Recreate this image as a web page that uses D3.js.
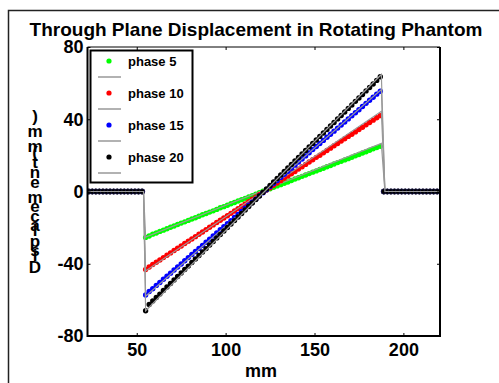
<!DOCTYPE html>
<html>
<head>
<meta charset="utf-8">
<script src="https://cdn.jsdelivr.net/npm/d3@7"></script>
<style>
  html, body { margin: 0; padding: 0; background: #fff; }
  svg text { font-family: "Liberation Sans", Arial, sans-serif; font-weight: bold; fill: #000; }
</style>
</head>
<body>
<svg id="chart" width="499" height="383"></svg>
<script>
// positions (mm) of the measured points
const flatLeftX = [23, 25, 27, 29, 31, 33, 35, 37, 39, 41, 43, 45, 47, 49, 51, 53];
const flatRightX = [189, 191, 193, 195, 197, 199, 201, 203, 205, 207, 209, 211, 213, 215, 217, 219];
const rampX = [55, 57, 59, 61, 63, 65, 67, 69, 71, 73, 75, 77, 79, 81, 83, 85, 87, 89, 91, 93,
  95, 97, 99, 101, 103, 105, 107, 109, 111, 113, 115, 117, 119, 121, 123, 125, 127, 129, 131, 133,
  135, 137, 139, 141, 143, 145, 147, 149, 151, 153, 155, 157, 159, 161, 163, 165, 167, 169, 171, 173,
  175, 177, 179, 181, 183, 185, 187];

const phase5 = [-25.4, -24.6, -23.6, -23.0, -22.1, -21.4, -20.6, -19.8, -19.1, -18.3, -17.5, -16.8, -16.0, -15.2,
  -14.5, -13.7, -12.9, -12.2, -11.4, -10.7, -9.9, -9.0, -8.4, -7.6, -6.8, -6.1, -5.3, -4.5, -3.8, -3.0, -2.3,
  -1.5, -0.7, 0.1, 0.8, 1.5, 2.3, 3.1, 3.8, 4.6, 5.3, 6.1, 6.9, 7.6, 8.4, 9.1, 9.9, 10.7, 11.4, 12.2, 12.9,
  13.7, 14.4, 15.2, 16.0, 16.7, 17.5, 18.2, 19.0, 19.8, 20.5, 21.3, 22.0, 22.8, 23.6, 24.3, 25.0];
const phase10 = [-43.2, -41.8, -40.4, -39.2, -37.9, -36.6, -35.3, -34.0, -32.7, -31.4, -30.2, -28.8, -27.5, -26.3,
  -25.0, -23.7, -22.4, -21.1, -19.8, -18.5, -17.2, -15.9, -14.7, -13.4, -12.1, -10.8, -9.5, -8.2, -6.9, -5.6,
  -4.3, -3.1, -1.8, -0.5, 0.8, 2.1, 3.4, 4.7, 6.0, 7.3, 8.5, 9.8, 11.1, 12.4, 13.7, 15.0, 16.3, 17.6, 18.9,
  20.1, 21.4, 22.7, 24.0, 25.3, 26.6, 27.9, 29.2, 30.5, 31.7, 33.0, 34.3, 35.6, 36.9, 38.2, 39.5, 40.8, 42.0];
const phase15 = [-57.3, -55.4, -53.8, -52.0, -50.4, -48.6, -46.9, -45.2, -43.5, -41.8, -40.1, -38.3, -36.6, -34.9,
  -33.2, -31.5, -29.8, -28.1, -26.4, -24.6, -22.9, -21.2, -19.5, -17.8, -16.1, -14.4, -12.7, -11.0, -9.3, -7.6,
  -5.9, -4.2, -2.4, -0.7, 1.0, 2.7, 4.4, 6.1, 7.8, 9.5, 11.2, 12.9, 14.6, 16.3, 18.0, 19.7, 21.4, 23.2, 24.9,
  26.6, 28.3, 30.0, 31.7, 33.4, 35.1, 36.8, 38.5, 40.2, 41.9, 43.6, 45.3, 47.1, 48.8, 50.5, 52.2, 53.9, 55.5];
const phase20 = [-66.0, -62.6, -60.6, -58.7, -56.8, -54.8, -52.9, -50.9, -49.0, -47.1, -45.1, -43.2, -41.3, -39.3,
  -37.4, -35.4, -33.5, -31.6, -29.6, -27.7, -25.7, -23.8, -21.9, -19.9, -18.0, -16.1, -14.1, -12.2, -10.2, -8.3,
  -6.4, -4.4, -2.5, -0.5, 1.4, 3.3, 5.3, 7.2, 9.1, 11.1, 13.0, 15.0, 16.9, 18.8, 20.8, 22.7, 24.7, 26.6, 28.5,
  30.5, 32.4, 34.3, 36.3, 38.2, 40.2, 42.1, 44.0, 46.0, 47.9, 49.9, 51.8, 53.7, 55.7, 57.6, 59.5, 61.5, 63.5];

// model (gray) lines: x knots and y values per phase
const modelX = [22, 53.8, 55, 187.6, 189.6, 221];
const model5 = [0, 0, -25.2, 26.6, 0, 0];
const model10 = [0, 0, -44.0, 44.4, 0, 0];
const model15 = [0, 0, -58.0, 56.5, 0, 0];
const model20 = [0, 0, -66.0, 64.8, 0, 0];

const seriesNames = ["phase 5", "phase 10", "phase 15", "phase 20"];
const seriesColors = ["#00ff00", "#ff0000", "#0000ff", "#000000"];
const seriesValues = [phase5, phase10, phase15, phase20];
const modelValues = [model5, model10, model15, model20];

const xTicks = [50, 100, 150, 200];
const yTicks = [-80, -40, 0, 40, 80];
const title = "Through Plane Displacement in Rotating Phantom";
const xLabel = "mm";
const yLabel = "Displacement (mm)";

const svg = d3.select("#chart");
const plotLeft = 87.5, plotRight = 440, plotTop = 47, plotBottom = 336;

const x = d3.scaleLinear().domain([22.3, 220.6]).range([plotLeft, plotRight]);
const y = d3.scaleLinear().domain([-80, 80]).range([plotBottom, plotTop]);

// figure frame
svg.append("rect")
  .attr("x", 8.5).attr("y", 10.5)
  .attr("width", 520).attr("height", 400)
  .attr("fill", "none").attr("stroke", "#222").attr("stroke-width", 1.5);

svg.append("defs").append("clipPath").attr("id", "plotclip")
  .append("rect").attr("x", plotLeft).attr("y", plotTop - 4)
  .attr("width", plotRight - plotLeft).attr("height", plotBottom - plotTop + 8);

const plot = svg.append("g").attr("clip-path", "url(#plotclip)");

const line = d3.line().x(d => x(d[0])).y(d => y(d[1]));

seriesValues.forEach((vals, k) => {
  // flat = outside the phantom
  const pts = flatLeftX.map(v => [v, 0, true])
    .concat(rampX.map((v, i) => [v, vals[i], false]))
    .concat(flatRightX.map(v => [v, 0, true]));
  plot.append("g").selectAll("circle")
    .data(pts)
    .join("circle")
    .attr("cx", d => x(d[0]))
    .attr("cy", d => y(d[1]))
    .attr("r", 2.7)
    .attr("fill", seriesColors[k])
    .attr("stroke", d => (k === 3 && d[2]) ? "#22225a" : "none")
    .attr("stroke-width", 0.6);

  plot.append("path")
    .datum(modelX.map((v, i) => [v, modelValues[k][i]]))
    .attr("d", line)
    .attr("fill", "none")
    .attr("stroke", "#999999")
    .attr("stroke-width", 1.2);
});

// axes (inward ticks, mirrored on top and right)
const fmt = d => String(d);
const gx = svg.append("g").attr("transform", `translate(0,${plotBottom})`)
  .call(d3.axisBottom(x).tickValues(xTicks).tickSize(-3).tickPadding(7).tickFormat(fmt));
const gxTop = svg.append("g").attr("transform", `translate(0,${plotTop})`)
  .call(d3.axisTop(x).tickValues(xTicks).tickSize(-3).tickFormat(""));
const gy = svg.append("g").attr("transform", `translate(${plotLeft},0)`)
  .call(d3.axisLeft(y).tickValues(yTicks).tickSize(-3).tickPadding(4).tickFormat(fmt));
const gyRight = svg.append("g").attr("transform", `translate(${plotRight},0)`)
  .call(d3.axisRight(y).tickValues(yTicks).tickSize(-3).tickFormat(""));

[gx, gxTop, gy, gyRight].forEach(g => {
  g.select(".domain").remove();
  g.selectAll(".tick line").attr("stroke", "#000");
  g.selectAll("text").style("font-size", "18px").style("font-family", "'Liberation Sans', Arial, sans-serif")
    .style("font-weight", "bold").attr("fill", "#000");
});

// plot box
svg.append("line").attr("x1", plotLeft).attr("x2", plotRight).attr("y1", plotTop).attr("y2", plotTop)
  .attr("stroke", "#000").attr("stroke-width", 1);
svg.append("line").attr("x1", plotLeft).attr("x2", plotRight).attr("y1", plotBottom).attr("y2", plotBottom)
  .attr("stroke", "#000").attr("stroke-width", 2);
svg.append("line").attr("x1", plotLeft).attr("x2", plotLeft).attr("y1", plotTop).attr("y2", plotBottom + 1)
  .attr("stroke", "#000").attr("stroke-width", 2);
svg.append("line").attr("x1", plotRight).attr("x2", plotRight).attr("y1", plotTop).attr("y2", plotBottom + 1)
  .attr("stroke", "#000").attr("stroke-width", 2);

// title and axis labels
svg.append("text")
  .attr("x", 256).attr("y", 35.5)
  .attr("text-anchor", "middle")
  .style("font-size", "19px")
  .text(title);

svg.append("text")
  .attr("x", 261).attr("y", 377)
  .attr("text-anchor", "middle")
  .style("font-size", "18px")
  .text(xLabel);

// y label: upright glyphs stacked bottom-up at the advance of each glyph
const yl = svg.append("g");
const probe = svg.append("text").style("font-size", "17px");
let yPos = 273;
for (const ch of yLabel) {
  probe.text(ch === " " ? "\u00a0" : ch);
  const adv = probe.node().getComputedTextLength();
  if (ch !== " ") {
    yl.append("text")
      .attr("x", 35).attr("y", yPos)
      .attr("text-anchor", "middle")
      .style("font-size", "17px")
      .text(ch);
  }
  yPos -= adv;
}
probe.remove();

// legend
const lg = svg.append("g");
lg.append("rect")
  .attr("x", 90.5).attr("y", 50.5).attr("width", 102).attr("height", 132)
  .attr("fill", "#fff").attr("stroke", "#000").attr("stroke-width", 2);
seriesNames.forEach((name, k) => {
  const rowY = 61 + 32 * k;
  lg.append("circle").attr("cx", 109).attr("cy", rowY).attr("r", 2.6).attr("fill", seriesColors[k]);
  lg.append("text").attr("x", 128).attr("y", rowY + 4.8).style("font-size", "13px").text(name);
  lg.append("line").attr("x1", 98).attr("x2", 121).attr("y1", rowY + 16).attr("y2", rowY + 16)
    .attr("stroke", "#999999").attr("stroke-width", 1.5);
});
</script>
</body>
</html>
